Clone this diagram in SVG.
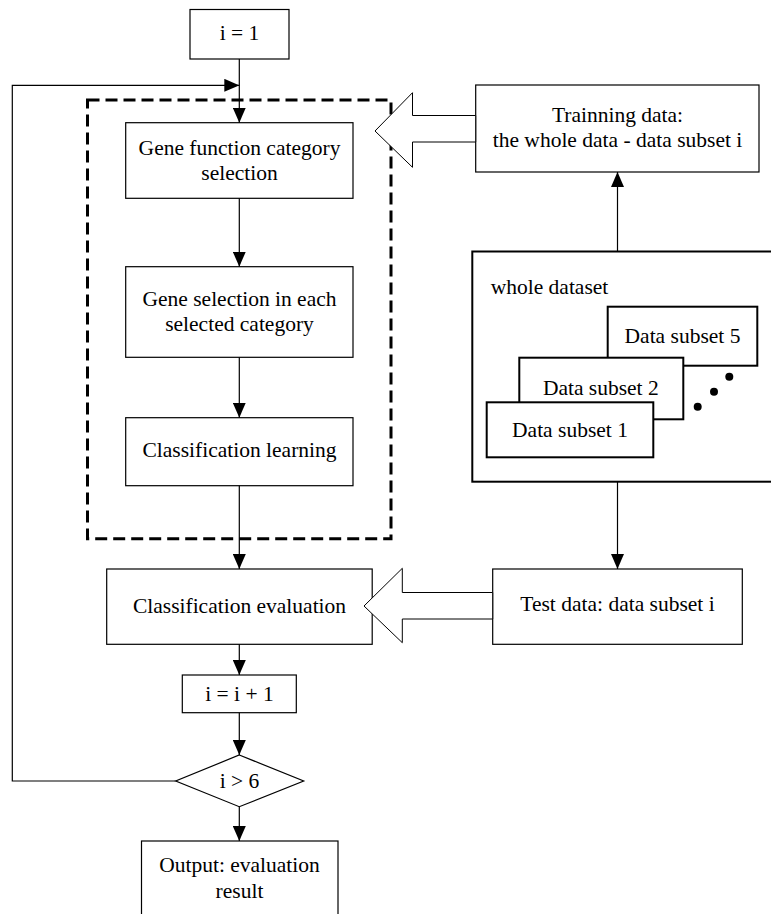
<svg xmlns="http://www.w3.org/2000/svg" width="771" height="914" viewBox="0 0 771 914">
  <style>
    .box { fill: #fff; stroke: #000; stroke-width: 1.2; }
    .thick { fill: #fff; stroke: #000; stroke-width: 2; }
    .t { font-family: "Liberation Serif", "Times New Roman", serif; font-size: 21.5px; fill: #000; text-anchor: middle; }
    .tl { font-family: "Liberation Serif", "Times New Roman", serif; font-size: 21.5px; fill: #000; }
    .c { fill: none; stroke: #000; stroke-width: 1.2; }
    .block { fill: #fff; stroke: #000; stroke-width: 1; }
  </style>
  <defs>
    <marker id="ah" viewBox="0 0 15 13" refX="15" refY="6.5" markerWidth="15" markerHeight="13" markerUnits="userSpaceOnUse" orient="auto">
      <path d="M0,0 L15,6.5 L0,13 z" fill="#000"/>
    </marker>
  </defs>
  <rect width="771" height="914" fill="#fff"/>

  <g id="dashed-group">
    <rect x="87.5" y="100" width="303.5" height="438.7" fill="none" stroke="#000" stroke-width="3" stroke-dasharray="12 6"/>
  </g>

  <g id="init">
    <rect class="box" x="190" y="9.5" width="99" height="49.5"/>
    <text class="t" x="239.5" y="39.5">i = 1</text>
  </g>
  <g id="gene-function">
    <rect class="box" x="125.7" y="122.7" width="227.3" height="75.6"/>
    <text class="t" x="239.5" y="155">Gene function category</text>
    <text class="t" x="239.5" y="180">selection</text>
  </g>
  <g id="gene-selection">
    <rect class="box" x="125.7" y="266.7" width="227.3" height="90.6"/>
    <text class="t" x="239.5" y="306">Gene selection in each</text>
    <text class="t" x="239.5" y="330.5">selected category</text>
  </g>
  <g id="class-learning">
    <rect class="box" x="125.7" y="417.7" width="227.3" height="68"/>
    <text class="t" x="239.5" y="457.3">Classification learning</text>
  </g>
  <g id="class-eval">
    <rect class="box" x="106.7" y="569" width="265.5" height="75.3"/>
    <text class="t" x="239.5" y="613.3">Classification evaluation</text>
  </g>
  <g id="increment">
    <rect class="box" x="182.3" y="675" width="114" height="37.7"/>
    <text class="t" x="239.5" y="700.7">i = i + 1</text>
  </g>
  <g id="decision">
    <polygon class="box" points="239.3,755 303.7,781 239.3,806.7 175.7,781"/>
    <text class="t" x="239.5" y="788">i &gt; 6</text>
  </g>
  <g id="output">
    <rect class="box" x="141.5" y="841" width="196.5" height="90"/>
    <text class="t" x="239.5" y="871.7">Output: evaluation</text>
    <text class="t" x="239.5" y="897.7">result</text>
  </g>

  <g id="training">
    <rect class="box" x="475.7" y="85" width="283.3" height="87"/>
    <text class="t" x="617.5" y="121.7">Trainning data:</text>
    <text class="t" x="617.5" y="146.7">the whole data - data subset i</text>
  </g>
  <g id="whole-dataset">
    <rect class="thick" x="472.3" y="251.5" width="310" height="230.2"/>
    <text class="tl" x="490.7" y="294">whole dataset</text>
  </g>
  <g id="subset5">
    <rect class="thick" x="607.7" y="306.7" width="149.6" height="59"/>
    <text class="t" x="682.5" y="342.7">Data subset 5</text>
  </g>
  <g id="subset2">
    <rect class="thick" x="519.3" y="357.7" width="164" height="61.6"/>
    <text class="t" x="600.8" y="395">Data subset 2</text>
  </g>
  <g id="subset1">
    <rect class="thick" x="486.7" y="402.3" width="166.6" height="55"/>
    <text class="t" x="570" y="436.7">Data subset 1</text>
  </g>
  <g id="dots">
    <circle cx="729.3" cy="376.7" r="4"/>
    <circle cx="714" cy="391.7" r="4"/>
    <circle cx="697.7" cy="406.7" r="4"/>
  </g>
  <g id="test">
    <rect class="box" x="492.7" y="569" width="249.6" height="75.3"/>
    <text class="t" x="617.5" y="610.7">Test data: data subset i</text>
  </g>

  <g id="connectors">
    <line class="c" x1="239.3" y1="59" x2="239.3" y2="122.7" marker-end="url(#ah)"/>
    <polyline class="c" points="175.7,781 12.3,781 12.3,85.3 239.3,85.3" marker-end="url(#ah)"/>
    <line class="c" x1="239.3" y1="198.3" x2="239.3" y2="266.7" marker-end="url(#ah)"/>
    <line class="c" x1="239.3" y1="357.3" x2="239.3" y2="417.7" marker-end="url(#ah)"/>
    <line class="c" x1="239.3" y1="485.7" x2="239.3" y2="569" marker-end="url(#ah)"/>
    <line class="c" x1="239.3" y1="644.3" x2="239.3" y2="675" marker-end="url(#ah)"/>
    <line class="c" x1="239.3" y1="712.7" x2="239.3" y2="755" marker-end="url(#ah)"/>
    <line class="c" x1="239.3" y1="806.7" x2="239.3" y2="841" marker-end="url(#ah)"/>
    <line class="c" x1="617.5" y1="251.5" x2="617.5" y2="172" marker-end="url(#ah)"/>
    <line class="c" x1="617.5" y1="481.7" x2="617.5" y2="569" marker-end="url(#ah)"/>
    <polygon class="block" points="475.7,115.5 412.5,115.5 412.5,92.7 375,131 412.5,167.3 412.5,142 475.7,142"/>
    <polygon class="block" points="492.7,592.5 402.3,592.5 402.3,568.3 364,606 402.3,642.7 402.3,619 492.7,619"/>
  </g>
</svg>
